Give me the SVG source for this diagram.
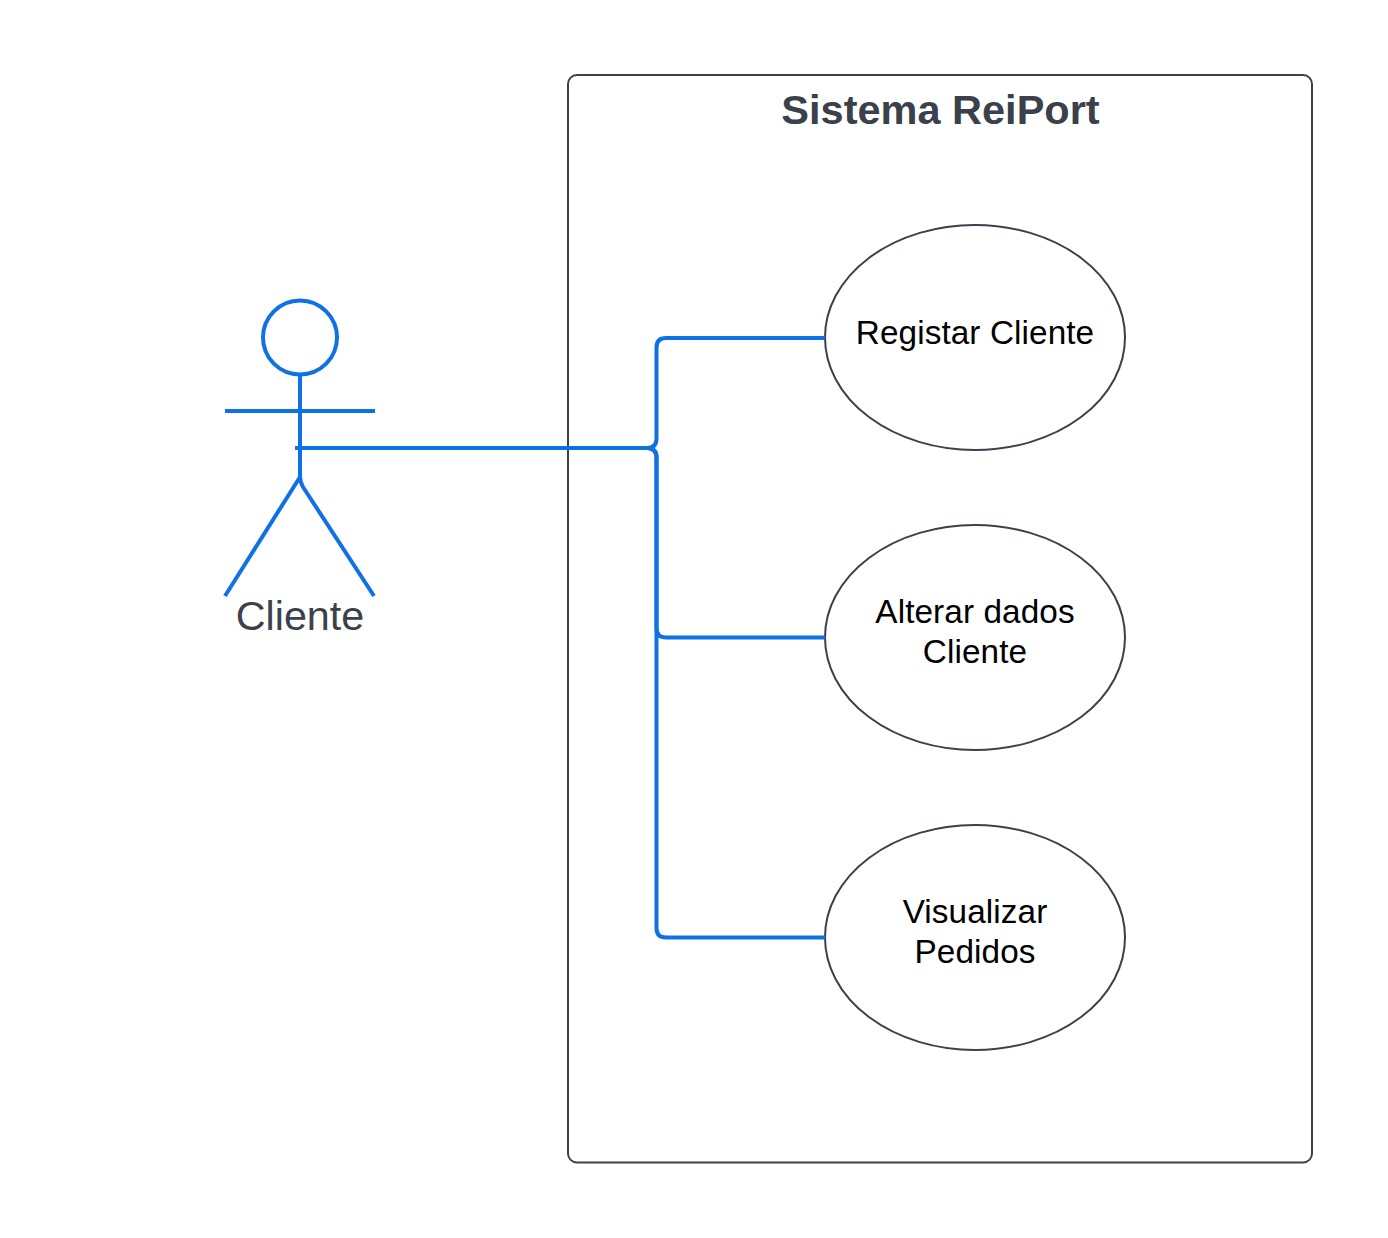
<svg xmlns="http://www.w3.org/2000/svg" width="1388" height="1238" viewBox="0 0 1388 1238">
<style>
.o{fill:none;stroke:#3a414a;stroke-width:2}
.b{fill:none;stroke:#1071e5;stroke-width:4}
text{font-family:"Liberation Sans",Arial,sans-serif;text-anchor:middle}
.u{font-size:33.3px;fill:#000;letter-spacing:.1px}
</style>
<rect width="1388" height="1238" fill="#fff"/>
<g id="system">
<rect class="o" x="568" y="75" width="744" height="1087.500" rx="9" ry="9"/>
<text x="940.500" y="124" font-size="41.500" font-weight="700" fill="#3a414a">Sistema ReiPort</text>
</g>
<g id="actor">
<circle class="b" cx="300" cy="337.500" r="37"/>
<path class="b" d="M300 375V476Q300 482 303 487L374 596M225 411H375M300 477L225 596"/>
<text x="300" y="630" font-size="41.300" fill="#3a414a">Cliente</text>
</g>
<g id="uc1">
<ellipse class="o" cx="975" cy="337.500" rx="150" ry="112.500"/>
<text class="u" x="975" y="343.500">Registar Cliente</text>
</g>
<g id="uc2">
<ellipse class="o" cx="975" cy="637.500" rx="150" ry="112.500"/>
<text class="u" x="975" y="623">Alterar dados</text>
<text class="u" x="975" y="663">Cliente</text>
</g>
<g id="uc3">
<ellipse class="o" cx="975" cy="937.500" rx="150" ry="112.500"/>
<text class="u" x="975" y="923">Visualizar</text>
<text class="u" x="975" y="963">Pedidos</text>
</g>
<g id="connectors">
<path class="b" d="M295 448H647Q656.500 448 656.500 438.500V347.500Q656.500 338 666 338H825"/>
<path class="b" d="M295 448H647Q656.500 448 656.500 457.500V628Q656.500 637.500 666 637.500H825"/>
<path class="b" d="M295 448H647Q656.500 448 656.500 457.500V928Q656.500 937.500 666 937.500H825"/>
</g>
</svg>
